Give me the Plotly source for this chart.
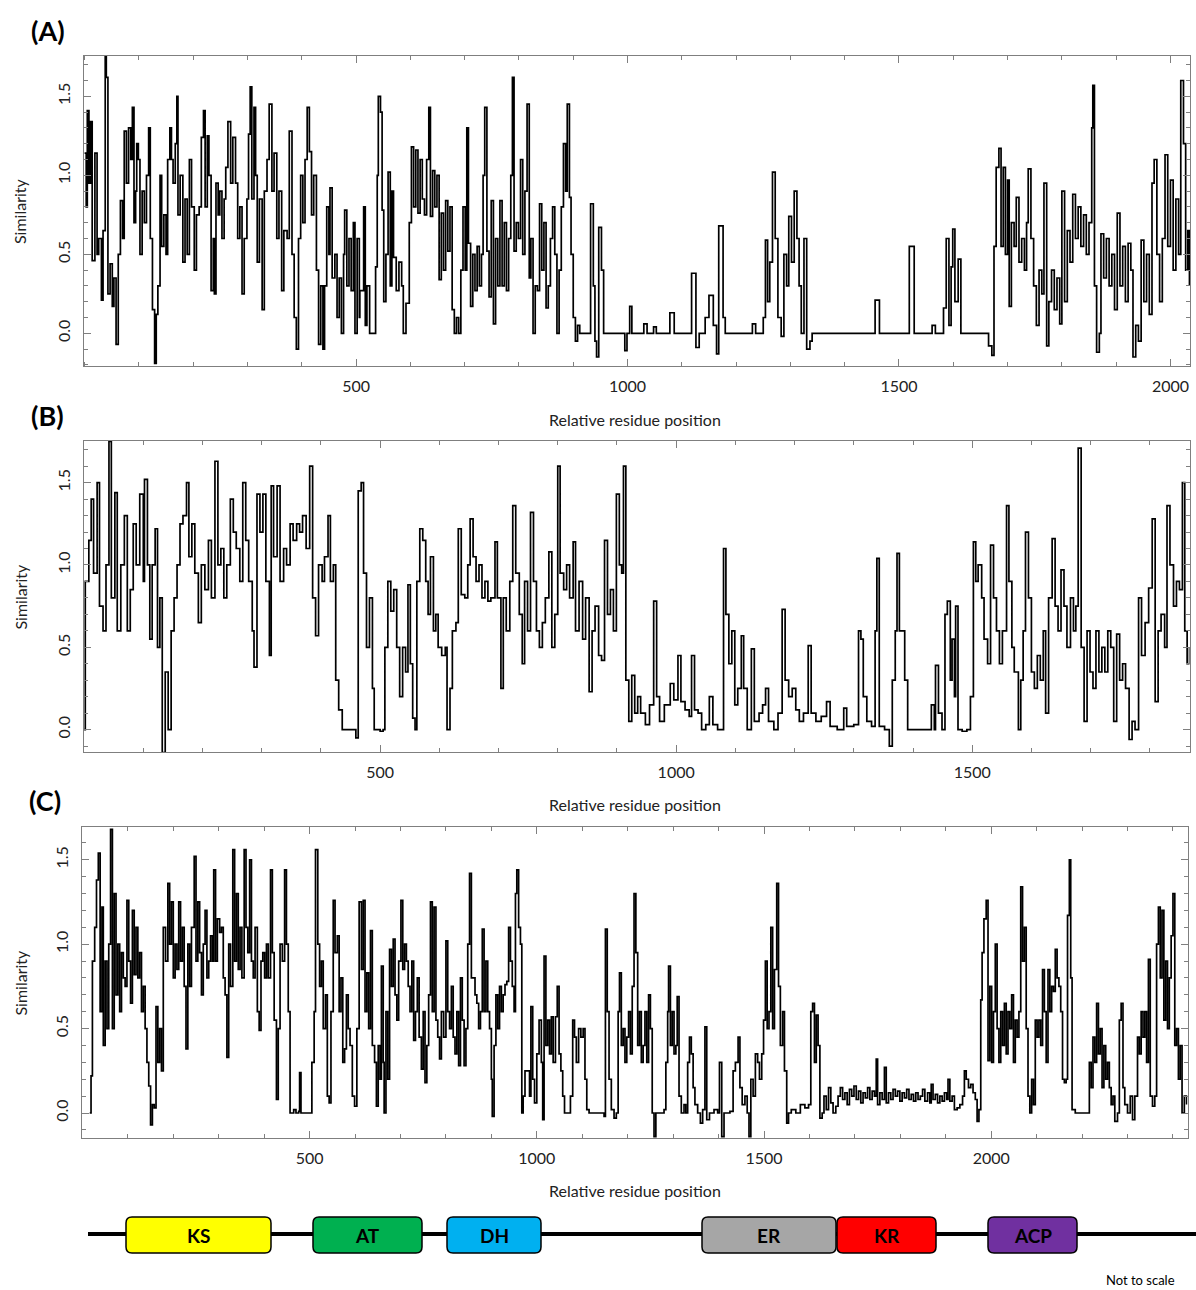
import plotly.graph_objects as go

W, H = 1196, 1290

# ---------------- data (residue position, similarity) ----------------
A_profile = [(0,1.14),(3,0.8),(5,1.41),(8,0.95),(11,1.34),(14,0.46),(19,1.14),(23,0.5),(26,0.6),(31,0.21),(34,0.65),(38,1.75),(40,1.62),(43,0.25),(47,0.44),(51,0.17),(54,0.35),(58,-0.07),(62,0.5),(66,0.84),(70,0.6),(73,1.28),(77,0.95),(81,1.3),(85,1.1),(88,1.43),(91,0.7),(94,0.9),(96,1.2),(99,1.1),(102,0.5),(106,0.9),(110,0.7),(114,1.0),(118,1.3),(121,0.6),(125,0.15),(129,-0.19),(132,0.12),(135,0.3),(139,1.0),(142,0.55),(146,0.75),(150,0.5),(153,1.1),(157,1.3),(160,1.1),(163,0.95),(167,1.2),(170,1.5),(172,0.75),(176,1.0),(181,0.45),(185,0.85),(189,0.5),(193,1.1),(197,0.8),(202,0.4),(206,0.75),(211,0.8),(215,1.24),(219,1.41),(222,0.8),(226,1.25),(229,1.0),(233,0.27),(237,0.6),(239,0.25),(242,0.95),(246,0.75),(249,0.9),(253,0.6),(257,0.85),(260,1.05),(264,1.34),(269,0.95),(273,1.24),(278,0.95),(282,0.6),(286,0.8),(290,0.25),(294,0.6),(299,0.85),(302,1.26),(305,1.56),(308,0.85),(312,1.43),(315,1.0),(318,0.45),(322,0.85),(327,0.15),(331,0.9),(336,1.1),(340,1.45),(345,0.9),(349,1.14),(354,0.6),(358,0.9),(363,0.27),(367,0.65),(373,0.6),(377,1.28),(382,0.5),(386,0.1),(390,-0.1),(394,0.6),(398,1.0),(402,0.7),(406,1.1),(410,1.43),(414,1.15),(418,0.75),(422,1.0),(427,0.4),(431,-0.07),(435,0.3),(439,-0.1),(442,0.3),(446,0.8),(450,0.5),(452,0.92),(456,0.35),(461,0.5),(465,0.1),(469,0.35),(473,0.0),(477,0.5),(479,0.78),(483,0.3),(487,0.6),(491,0.27),(495,0.7),(498,0.0),(502,0.6),(506,0.1),(507,0.27),(514,0.8),(517,0.05),(520,0.3),(525,0.0),(536,0.42),(539,1.0),(541,1.5),(545,1.4),(548,0.78),(551,0.2),(555,0.5),(559,1.02),(563,0.3),(566,0.9),(569,0.48),(574,0.27),(579,0.45),(584,0.3),(587,0.0),(592,0.19),(598,0.7),(602,1.18),(606,0.8),(610,1.16),(614,0.76),(618,1.1),(622,0.85),(626,0.75),(630,1.1),(634,1.43),(637,0.74),(641,1.03),(645,0.8),(649,1.0),(653,0.34),(657,0.76),(661,0.4),(665,0.84),(669,0.52),(673,0.8),(677,0.15),(681,0.0),(685,0.1),(689,0.0),(693,0.4),(697,0.8),(701,0.4),(704,1.3),(707,0.57),(711,0.17),(715,0.5),(719,0.27),(723,0.55),(727,0.3),(731,0.5),(734,1.0),(737,1.43),(741,0.52),(745,0.23),(749,0.84),(753,0.06),(757,0.6),(761,0.3),(765,0.84),(769,0.3),(773,0.7),(777,0.27),(781,0.6),(785,1.0),(788,1.62),(791,0.52),(795,0.7),(799,0.6),(803,1.1),(807,0.5),(811,0.9),(815,1.45),(819,0.35),(822,0.6),(826,0.0),(830,0.3),(834,0.27),(838,0.82),(842,0.4),(846,0.7),(850,0.16),(854,0.3),(858,0.6),(862,0.8),(866,0.5),(870,0.0),(874,0.4),(878,0.8),(882,1.2),(886,0.9),(889,1.45),(893,0.86),(896,0.5),(900,0.1),(904,-0.05),(908,0.05),(912,0.0),(932,0.82),(937,0.3),(940,-0.05),(943,-0.15),(947,0.67),(952,0.4),(956,0.0),(995,-0.11),(999,0.0),(1004,0.17),(1008,0.0),(1030,0.06),(1036,0.0),(1048,0.04),(1053,0.0),(1078,0.13),(1086,0.0),(1118,0.38),(1126,-0.09),(1132,0.0),(1143,0.1),(1150,0.24),(1158,0.05),(1164,-0.13),(1168,0.68),(1176,0.1),(1180,0.0),(1230,0.06),(1236,0.0),(1250,0.1),(1254,0.59),(1258,0.2),(1262,0.45),(1267,1.02),(1272,0.6),(1277,0.1),(1283,-0.02),(1288,0.5),(1293,0.3),(1297,0.74),(1302,0.45),(1307,0.9),(1312,0.6),(1316,0.3),(1320,0.0),(1325,0.6),(1330,-0.1),(1336,-0.05),(1340,0.0),(1456,0.21),(1464,0.0),(1519,0.55),(1528,0.0),(1561,0.05),(1567,0.0),(1582,0.16),(1587,0.6),(1592,0.05),(1596,0.42),(1599,0.66),(1603,0.2),(1609,0.47),(1614,0.0),(1665,-0.08),(1671,-0.14),(1675,0.55),(1679,1.05),(1684,1.17),(1688,0.55),(1692,1.05),(1696,0.5),(1700,0.97),(1703,0.17),(1707,0.7),(1712,0.55),(1716,0.86),(1721,0.45),(1726,0.6),(1731,0.4),(1735,0.7),(1738,1.04),(1743,0.6),(1748,0.3),(1753,0.05),(1758,0.4),(1763,0.25),(1767,0.95),(1772,-0.08),(1776,0.2),(1781,0.4),(1786,0.15),(1791,0.35),(1796,0.06),(1800,0.9),(1805,0.2),(1810,0.65),(1815,0.45),(1820,0.88),(1825,0.6),(1830,0.8),(1835,0.55),(1840,0.75),(1845,0.5),(1850,0.7),(1855,1.3),(1857,1.57),(1860,0.3),(1864,-0.12),(1869,0.0),(1872,0.63),(1877,0.35),(1882,0.6),(1887,0.3),(1892,0.5),(1897,0.15),(1902,0.76),(1907,0.3),(1912,0.55),(1917,0.2),(1922,0.57),(1927,0.4),(1931,-0.15),(1936,0.05),(1941,-0.05),(1946,0.59),(1951,0.2),(1956,0.5),(1961,0.12),(1966,0.95),(1970,1.1),(1975,0.5),(1980,0.2),(1985,0.6),(1990,1.13),(1995,0.55),(2000,0.97),(2005,0.4),(2010,0.85),(2015,0.5),(2019,1.6),(2024,1.2),(2028,0.4),(2032,0.65),(2035,0.3)]

B_profile = [(0,0.0),(2,0.9),(8,1.15),(12,1.4),(16,0.95),(22,1.5),(26,0.75),(32,0.6),(37,1.0),(42,1.75),(46,0.8),(52,1.44),(56,0.6),(62,1.0),(68,1.3),(73,0.6),(78,0.85),(83,1.25),(88,1.0),(94,1.43),(100,0.9),(102,1.52),(107,1.0),(111,0.55),(115,1.0),(120,1.22),(124,0.5),(128,0.8),(132,-0.14),(137,0.35),(142,0.0),(147,0.6),(152,0.8),(157,1.0),(162,1.25),(167,1.3),(173,1.5),(177,1.05),(182,1.25),(187,0.95),(193,0.65),(198,1.0),(204,0.85),(210,1.15),(215,0.8),(221,1.63),(226,1.0),(231,1.1),(236,0.8),(241,1.0),(247,1.4),(252,1.2),(257,1.1),(263,0.9),(268,1.5),(273,1.15),(278,0.9),(284,0.6),(287,0.38),(292,1.43),(297,1.2),(302,1.43),(307,0.9),(313,0.45),(316,1.48),(320,1.05),(326,1.48),(331,0.9),(337,1.1),(342,1.0),(348,1.25),(353,1.15),(359,1.25),(364,1.2),(369,1.3),(375,1.1),(381,1.6),(386,0.8),(391,0.57),(396,1.0),(402,0.9),(406,1.05),(412,1.3),(416,0.9),(421,1.0),(425,0.3),(430,0.12),(436,0.0),(455,0.0),(459,-0.05),(463,1.45),(468,1.5),(472,0.95),(477,0.5),(482,0.8),(487,0.25),(490,0.0),(500,-0.01),(505,0.0),(508,0.5),(513,0.9),(518,0.72),(523,0.85),(528,0.5),(533,0.2),(538,0.5),(543,0.35),(547,0.88),(551,0.4),(555,0.07),(559,0.0),(562,0.9),(567,1.22),(572,1.15),(577,0.9),(581,0.7),(585,1.05),(590,0.6),(594,0.7),(598,0.5),(604,0.45),(610,0.5),(613,0.0),(618,0.25),(622,0.6),(628,0.65),(632,1.22),(637,0.82),(643,0.8),(648,1.0),(652,1.28),(657,1.05),(662,0.9),(667,1.0),(672,0.8),(677,0.9),(682,0.78),(687,0.8),(694,1.14),(698,0.8),(704,0.25),(708,0.8),(713,0.6),(719,0.9),(724,1.36),(729,0.95),(735,0.7),(740,0.4),(744,0.9),(749,0.6),(754,1.32),(759,0.9),(764,0.6),(769,0.5),(774,0.65),(779,0.8),(785,1.08),(790,0.5),(795,0.7),(800,1.6),(804,0.95),(810,0.85),(815,1.0),(820,0.8),(826,1.14),(830,0.6),(836,0.9),(842,0.55),(847,0.8),(853,0.23),(858,0.6),(863,0.75),(869,0.45),(874,0.42),(879,1.15),(884,0.7),(889,0.85),(894,0.6),(899,1.43),(904,1.0),(908,0.95),(911,1.6),(915,0.3),(920,0.05),(925,0.33),(930,0.1),(935,0.2),(940,0.1),(948,0.03),(955,0.15),(962,0.78),(967,0.2),(972,0.05),(980,0.15),(990,0.28),(996,0.18),(1003,0.45),(1008,0.17),(1015,0.12),(1022,0.08),(1026,0.45),(1031,0.12),(1037,0.1),(1043,0.0),(1050,0.03),(1056,0.2),(1062,0.03),(1070,0.0),(1077,0.0),(1080,1.1),(1084,0.7),(1089,0.4),(1094,0.6),(1099,0.15),(1104,0.25),(1110,0.57),(1114,0.25),(1120,0.0),(1127,0.49),(1132,0.05),(1140,0.1),(1146,0.15),(1151,0.25),(1156,0.05),(1165,0.0),(1172,0.1),(1179,0.73),(1184,0.3),(1190,0.2),(1196,0.25),(1202,0.12),(1208,0.05),(1215,0.1),(1223,0.51),(1228,0.1),(1236,0.05),(1245,0.08),(1254,0.17),(1260,0.02),(1272,0.0),(1283,0.13),(1288,0.02),(1300,0.03),(1308,0.6),(1312,0.55),(1316,0.2),(1322,0.05),(1330,0.02),(1336,0.6),(1339,1.04),(1343,0.02),(1352,0.0),(1360,-0.1),(1365,0.3),(1370,0.6),(1373,1.07),(1377,0.6),(1382,0.6),(1386,0.3),(1391,0.0),(1429,0.0),(1431,0.15),(1436,0.0),(1438,0.39),(1443,0.1),(1449,0.0),(1454,0.7),(1458,0.78),(1463,0.3),(1466,0.55),(1470,0.2),(1472,0.75),(1476,0.0),(1483,-0.01),(1491,0.0),(1497,0.2),(1502,1.14),(1506,0.9),(1510,1.0),(1516,0.8),(1520,0.55),(1526,0.4),(1531,1.12),(1536,0.8),(1541,0.6),(1546,0.4),(1551,0.6),(1558,1.36),(1562,0.9),(1567,0.5),(1571,0.35),(1578,0.0),(1582,0.3),(1586,0.6),(1590,1.2),(1595,0.8),(1600,0.35),(1605,0.25),(1610,0.45),(1615,0.3),(1620,0.6),(1624,0.1),(1629,0.8),(1635,1.16),(1640,0.75),(1645,0.6),(1650,0.97),(1655,0.75),(1660,0.5),(1666,0.8),(1671,0.6),(1675,0.75),(1679,1.71),(1684,0.5),(1689,0.05),(1694,0.6),(1699,0.35),(1704,0.25),(1709,0.6),(1714,0.35),(1719,0.5),(1724,0.35),(1729,0.6),(1734,0.5),(1739,0.05),(1744,0.58),(1749,0.3),(1754,0.4),(1759,0.25),(1765,-0.06),(1770,0.05),(1775,0.0),(1781,0.8),(1786,0.45),(1792,0.65),(1798,0.86),(1804,1.28),(1809,0.17),(1814,0.6),(1819,0.7),(1825,0.5),(1829,1.36),(1834,1.0),(1840,0.75),(1845,0.9),(1850,0.85),(1855,1.5),(1859,0.6),(1863,0.4),(1867,0.5)]

C_profile = [(16,0.0),(19,0.22),(22,0.9),(27,1.1),(31,1.38),(35,1.54),(39,0.6),(43,1.22),(46,0.4),(50,0.9),(54,0.5),(58,1.0),(62,1.68),(66,0.5),(70,1.3),(74,0.7),(78,1.0),(82,0.6),(86,0.95),(90,0.8),(94,0.75),(98,1.26),(102,0.9),(106,0.65),(110,1.2),(114,0.82),(118,1.1),(122,0.8),(126,0.95),(130,0.6),(134,0.75),(138,0.5),(142,0.3),(146,0.16),(150,-0.07),(154,0.05),(158,0.03),(162,0.63),(166,0.3),(170,0.5),(174,0.25),(178,1.1),(183,0.9),(188,1.36),(192,1.0),(196,1.25),(200,0.8),(204,1.0),(208,0.85),(212,1.25),(216,0.9),(220,1.1),(224,0.75),(228,0.38),(232,1.0),(236,0.75),(240,1.1),(246,1.52),(250,0.9),(254,1.25),(258,0.95),(262,0.7),(266,1.0),(270,1.2),(274,0.8),(278,0.9),(282,1.05),(286,0.9),(289,1.44),(293,0.9),(297,1.15),(302,1.07),(306,1.1),(310,0.8),(314,0.7),(318,0.33),(322,1.0),(326,0.75),(331,1.56),(335,0.9),(339,1.3),(343,0.85),(347,1.1),(351,0.8),(356,1.56),(360,1.1),(364,0.95),(368,1.5),(372,0.9),(376,0.8),(380,1.1),(385,0.6),(389,0.49),(393,0.9),(397,0.95),(401,0.8),(405,1.0),(409,0.8),(414,1.44),(418,0.95),(422,0.55),(427,0.08),(431,0.5),(435,1.0),(440,0.9),(445,1.44),(449,1.0),(453,0.6),(457,0.0),(465,0.02),(470,0.0),(476,0.01),(478,0.24),(481,0.0),(500,0.0),(505,0.3),(510,0.6),(513,1.56),(518,1.0),(522,0.75),(526,0.9),(530,0.5),(535,0.7),(539,0.1),(543,0.06),(547,0.6),(552,1.26),(556,0.95),(561,1.05),(565,0.6),(569,0.8),(573,0.3),(577,0.38),(581,0.7),(585,0.5),(589,0.4),(594,0.1),(599,0.04),(604,0.5),(609,1.25),(614,0.85),(618,1.26),(622,0.6),(626,0.83),(630,0.5),(634,1.08),(638,0.4),(643,0.3),(647,0.04),(651,0.4),(655,0.2),(658,0.87),(662,0.3),(664,0.0),(668,0.6),(672,0.2),(676,0.97),(680,0.75),(684,1.03),(688,0.7),(692,0.55),(696,0.9),(701,1.26),(705,0.85),(709,1.0),(713,0.9),(717,0.75),(721,0.6),(725,0.9),(729,0.43),(733,0.6),(737,0.8),(741,0.45),(746,0.26),(750,0.6),(754,0.18),(758,0.4),(762,0.7),(766,1.25),(770,0.6),(774,1.22),(778,0.55),(782,0.45),(786,0.32),(790,0.6),(795,0.45),(800,1.02),(804,0.6),(808,0.5),(812,0.75),(816,0.45),(820,0.35),(824,0.6),(828,0.28),(832,0.8),(836,0.55),(840,0.28),(844,0.5),(848,1.0),(852,1.42),(856,0.8),(860,0.8),(864,0.7),(868,0.65),(872,0.5),(876,0.6),(880,1.09),(884,0.6),(888,0.9),(892,0.6),(896,0.5),(900,0.2),(902,-0.02),(906,0.4),(910,0.7),(914,0.5),(918,0.75),(922,0.6),(926,0.7),(930,0.76),(934,0.78),(938,1.1),(942,0.9),(946,0.75),(950,0.6),(953,1.3),(956,1.44),(960,1.1),(964,1.0),(967,0.0),(970,0.1),(974,0.25),(980,0.25),(984,0.1),(987,0.63),(991,0.2),(995,0.06),(1000,0.35),(1005,0.55),(1010,0.3),(1013,-0.04),(1016,0.93),(1020,0.4),(1024,0.55),(1028,0.35),(1032,0.57),(1036,0.3),(1041,0.57),(1045,0.75),(1049,0.35),(1053,0.25),(1057,0.1),(1061,0.0),(1068,0.0),(1074,0.1),(1079,0.55),(1083,0.45),(1087,0.3),(1092,0.5),(1097,0.45),(1102,0.5),(1106,0.2),(1110,0.02),(1115,0.0),(1142,0.0),(1148,-0.02),(1151,1.09),(1155,0.6),(1159,0.2),(1164,0.02),(1170,-0.03),(1175,0.0),(1179,0.6),(1182,0.83),(1186,0.4),(1190,0.5),(1194,0.3),(1198,0.45),(1202,0.6),(1206,0.35),(1210,0.75),(1214,1.3),(1218,0.95),(1222,0.4),(1226,0.6),(1230,0.3),(1234,0.4),(1238,0.6),(1242,0.3),(1246,0.7),(1250,0.5),(1254,0.0),(1258,-0.14),(1262,0.0),(1280,0.02),(1284,0.3),(1288,0.6),(1290,0.87),(1294,0.4),(1298,0.6),(1302,0.35),(1306,0.4),(1309,0.69),(1313,0.1),(1318,0.0),(1324,0.05),(1328,0.0),(1332,0.3),(1336,0.45),(1340,0.35),(1344,0.15),(1348,0.05),(1354,0.0),(1360,-0.06),(1365,0.02),(1370,0.51),(1374,-0.04),(1380,0.0),(1390,0.02),(1398,0.0),(1402,0.3),(1407,-0.14),(1412,0.0),(1425,0.01),(1432,0.25),(1437,0.3),(1443,0.45),(1447,0.15),(1452,0.05),(1458,0.1),(1463,0.0),(1467,-0.14),(1471,0.2),(1476,0.1),(1481,0.35),(1486,0.3),(1490,0.2),(1495,0.35),(1499,0.55),(1503,0.9),(1507,0.5),(1511,0.6),(1515,1.1),(1519,0.5),(1523,0.85),(1528,1.36),(1532,0.75),(1536,0.4),(1541,0.6),(1545,0.25),(1550,-0.06),(1554,0.0),(1560,0.02),(1570,0.0),(1580,0.05),(1590,0.03),(1598,0.05),(1603,0.6),(1607,0.65),(1611,0.3),(1615,0.58),(1619,0.4),(1623,-0.03),(1628,0.0),(1632,0.1),(1637,0.02),(1642,0.15),(1647,0.06),(1652,0.0),(1658,0.04),(1663,0.1),(1668,0.15),(1673,0.08),(1678,0.12),(1683,0.05),(1688,0.14),(1693,0.1),(1698,0.16),(1703,0.08),(1708,0.13),(1713,0.06),(1718,0.12),(1723,0.09),(1728,0.15),(1733,0.08),(1738,0.13),(1743,0.1),(1747,0.32),(1750,0.05),(1755,0.12),(1760,0.08),(1765,0.27),(1769,0.06),(1774,0.12),(1779,0.08),(1784,0.14),(1789,0.1),(1794,0.13),(1799,0.07),(1804,0.12),(1809,0.09),(1814,0.14),(1819,0.08),(1824,0.11),(1829,0.07),(1834,0.12),(1839,0.08),(1844,0.1),(1849,0.14),(1854,0.07),(1860,0.12),(1865,0.06),(1868,0.17),(1872,0.08),(1877,0.11),(1882,0.06),(1887,0.1),(1892,0.07),(1897,0.12),(1902,0.08),(1905,0.2),(1909,0.07),(1914,0.1),(1919,0.02),(1925,0.03),(1931,0.05),(1937,0.1),(1941,0.25),(1945,0.2),(1950,0.15),(1955,0.17),(1960,0.12),(1965,0.08),(1969,-0.05),(1973,0.02),(1977,0.67),(1980,0.95),(1984,1.15),(1989,1.26),(1993,0.31),(1997,0.75),(2001,0.3),(2005,0.6),(2009,1.0),(2013,0.5),(2017,0.3),(2021,0.6),(2025,0.4),(2029,0.65),(2033,0.35),(2037,0.6),(2041,0.5),(2045,0.7),(2049,0.3),(2053,0.55),(2057,0.45),(2061,0.6),(2065,1.34),(2069,0.9),(2073,1.1),(2077,0.5),(2081,0.1),(2085,0.0),(2089,0.2),(2093,0.05),(2097,0.55),(2101,0.45),(2105,0.55),(2109,0.4),(2113,0.85),(2117,0.6),(2121,0.3),(2125,0.85),(2129,0.6),(2133,0.75),(2137,0.72),(2141,0.97),(2145,0.8),(2149,0.75),(2153,0.6),(2157,0.2),(2161,0.18),(2165,0.2),(2168,1.17),(2172,1.5),(2175,0.8),(2178,0.02),(2185,0.0),(2212,0.0),(2216,0.3),(2220,0.15),(2224,0.45),(2228,0.3),(2232,0.65),(2236,0.35),(2240,0.5),(2244,0.15),(2248,0.4),(2252,0.2),(2256,0.3),(2260,0.15),(2264,0.05),(2268,0.1),(2272,-0.05),(2278,0.0),(2282,0.55),(2286,0.65),(2290,0.15),(2294,0.05),(2300,0.0),(2306,0.1),(2311,-0.04),(2316,0.1),(2322,0.45),(2326,0.35),(2330,0.6),(2334,0.45),(2338,0.6),(2342,0.3),(2346,0.91),(2350,0.1),(2355,0.04),(2360,0.1),(2364,1.0),(2368,1.22),(2372,0.8),(2376,1.2),(2380,0.55),(2384,0.9),(2388,0.5),(2392,0.8),(2396,1.05),(2400,1.3),(2404,0.4),(2408,0.5),(2412,0.2),(2416,0.4),(2420,0.0),(2425,0.1),(2430,0.05)]

panel_labels = ["(A)", "(B)", "(C)"]
x_title = "Relative residue position"
y_title = "Similarity"
y_tickvals = [0, 0.5, 1.0, 1.5]
y_ticktext = ["0.0", "0.5", "1.0", "1.5"]
domain_names = ["KS", "AT", "DH", "ER", "KR", "ACP"]

# ---------------- layout helpers (pixel -> paper) ----------------
def X(px):
    return px / W

def Y(py):
    return 1 - py / H

FONT = "Lato"
FRAME = "#7f7f7f"

panels = [
    dict(data=A_profile, xr=[-2, 2036], yr=[-0.207, 1.755], box=(83.5, 1190, 56, 366),
         xt=[500, 1000, 1500, 2000], lab=(48, 30), title_y=419),
    dict(data=B_profile, xr=[-1, 1867], yr=[-0.136, 1.753], box=(83.5, 1189.5, 441, 752),
         xt=[500, 1000, 1500], lab=(47, 415), title_y=804),
    dict(data=C_profile, xr=[-2, 2432], yr=[-0.148, 1.694], box=(81.5, 1187.5, 827, 1138),
         xt=[500, 1000, 1500, 2000], lab=(45, 800), title_y=1190),
]

fig = go.Figure()
annotations = []
layout = {}

for i, p in enumerate(panels):
    sfx = "" if i == 0 else str(i + 1)
    res = [d[0] for d in p["data"]]
    sim = [d[1] for d in p["data"]]
    fig.add_trace(go.Scatter(
        x=res, y=sim, mode="lines",
        line=dict(color="black", width=1.7, shape="hv"),
        xaxis="x" + sfx, yaxis="y" + sfx, showlegend=False, hoverinfo="skip"))
    x0, x1, y0, y1 = p["box"]
    layout["xaxis" + sfx] = dict(
        domain=[X(x0), X(x1)], range=p["xr"], anchor="y" + sfx,
        showline=True, mirror="allticks", linecolor=FRAME, linewidth=1,
        ticks="inside", ticklen=7, tickwidth=1, tickcolor=FRAME,
        tickmode="array", tickvals=p["xt"],
        minor=dict(ticks="inside", ticklen=4, tickwidth=1, tickcolor=FRAME, tick0=0, dtick=100),
        showgrid=False, zeroline=False,
        tickfont=dict(family=FONT, size=16, color="#222"), ticklabelstandoff=6)
    layout["yaxis" + sfx] = dict(
        domain=[Y(y1), Y(y0)], range=p["yr"], anchor="x" + sfx,
        showline=True, mirror="allticks", linecolor=FRAME, linewidth=1,
        ticks="inside", ticklen=7, tickwidth=1, tickcolor=FRAME,
        tickmode="array", tickvals=y_tickvals, ticktext=y_ticktext, tickangle=-90,
        minor=dict(ticks="inside", ticklen=4, tickwidth=1, tickcolor=FRAME, tick0=0, dtick=0.1),
        showgrid=False, zeroline=False,
        tickfont=dict(family=FONT, size=16, color="#222"), ticklabelstandoff=6)
    lx, ly = p["lab"]
    annotations.append(dict(text="<b>" + panel_labels[i] + "</b>", x=X(lx), y=Y(ly),
                            xref="paper", yref="paper", showarrow=False,
                            font=dict(family=FONT, size=27, color="black"),
                            xanchor="center", yanchor="middle"))
    annotations.append(dict(text=x_title, x=X(635), y=Y(p["title_y"]),
                            xref="paper", yref="paper", showarrow=False,
                            font=dict(family=FONT, size=16, color="#222"),
                            xanchor="center", yanchor="middle"))
    annotations.append(dict(text=y_title, x=X(20), y=Y((y0 + y1) / 2),
                            xref="paper", yref="paper", showarrow=False, textangle=-90,
                            font=dict(family=FONT, size=16, color="#222"),
                            xanchor="center", yanchor="middle"))

# ---------------- domain organisation diagram (not to scale) ----------------
domain_boxes = [(126, 271), (313, 422), (447, 541), (702, 836), (837, 936), (988, 1077)]
domain_colors = ["#FFFF00", "#00B050", "#00B0F0", "#A6A6A6", "#FF0000", "#7030A0"]
bar_y, box_top, box_bot = 1234, 1217, 1253

def rrect(x0, y0, x1, y1, r=6):
    pts = [
        f"M {X(x0 + r)} {Y(y0)}", f"L {X(x1 - r)} {Y(y0)}", f"Q {X(x1)} {Y(y0)} {X(x1)} {Y(y0 + r)}",
        f"L {X(x1)} {Y(y1 - r)}", f"Q {X(x1)} {Y(y1)} {X(x1 - r)} {Y(y1)}",
        f"L {X(x0 + r)} {Y(y1)}", f"Q {X(x0)} {Y(y1)} {X(x0)} {Y(y1 - r)}",
        f"L {X(x0)} {Y(y0 + r)}", f"Q {X(x0)} {Y(y0)} {X(x0 + r)} {Y(y0)}", "Z"]
    return " ".join(pts)

shapes = [dict(type="line", xref="paper", yref="paper", x0=X(88), x1=X(1196), y0=Y(bar_y), y1=Y(bar_y),
               line=dict(color="black", width=4))]
for (bx0, bx1), col, name in zip(domain_boxes, domain_colors, domain_names):
    shapes.append(dict(type="path", xref="paper", yref="paper", path=rrect(bx0, box_top, bx1, box_bot),
                       fillcolor=col, line=dict(color="black", width=1.5)))
    annotations.append(dict(text="<b>" + name + "</b>", x=X((bx0 + bx1) / 2), y=Y((box_top + box_bot) / 2),
                            xref="paper", yref="paper", showarrow=False,
                            font=dict(family=FONT, size=19, color="black"),
                            xanchor="center", yanchor="middle"))
annotations.append(dict(text="Not to scale", x=X(1140), y=Y(1280), xref="paper", yref="paper",
                        showarrow=False, font=dict(family=FONT, size=13, color="black"),
                        xanchor="center", yanchor="middle"))

fig.update_layout(
    width=W, height=H, margin=dict(l=0, r=0, t=0, b=0),
    paper_bgcolor="white", plot_bgcolor="white",
    annotations=annotations, shapes=shapes, **layout)

fig.write_html("out.html", config={"displayModeBar": False},
               post_script="document.body.style.margin='0';document.body.style.overflow='hidden';")
